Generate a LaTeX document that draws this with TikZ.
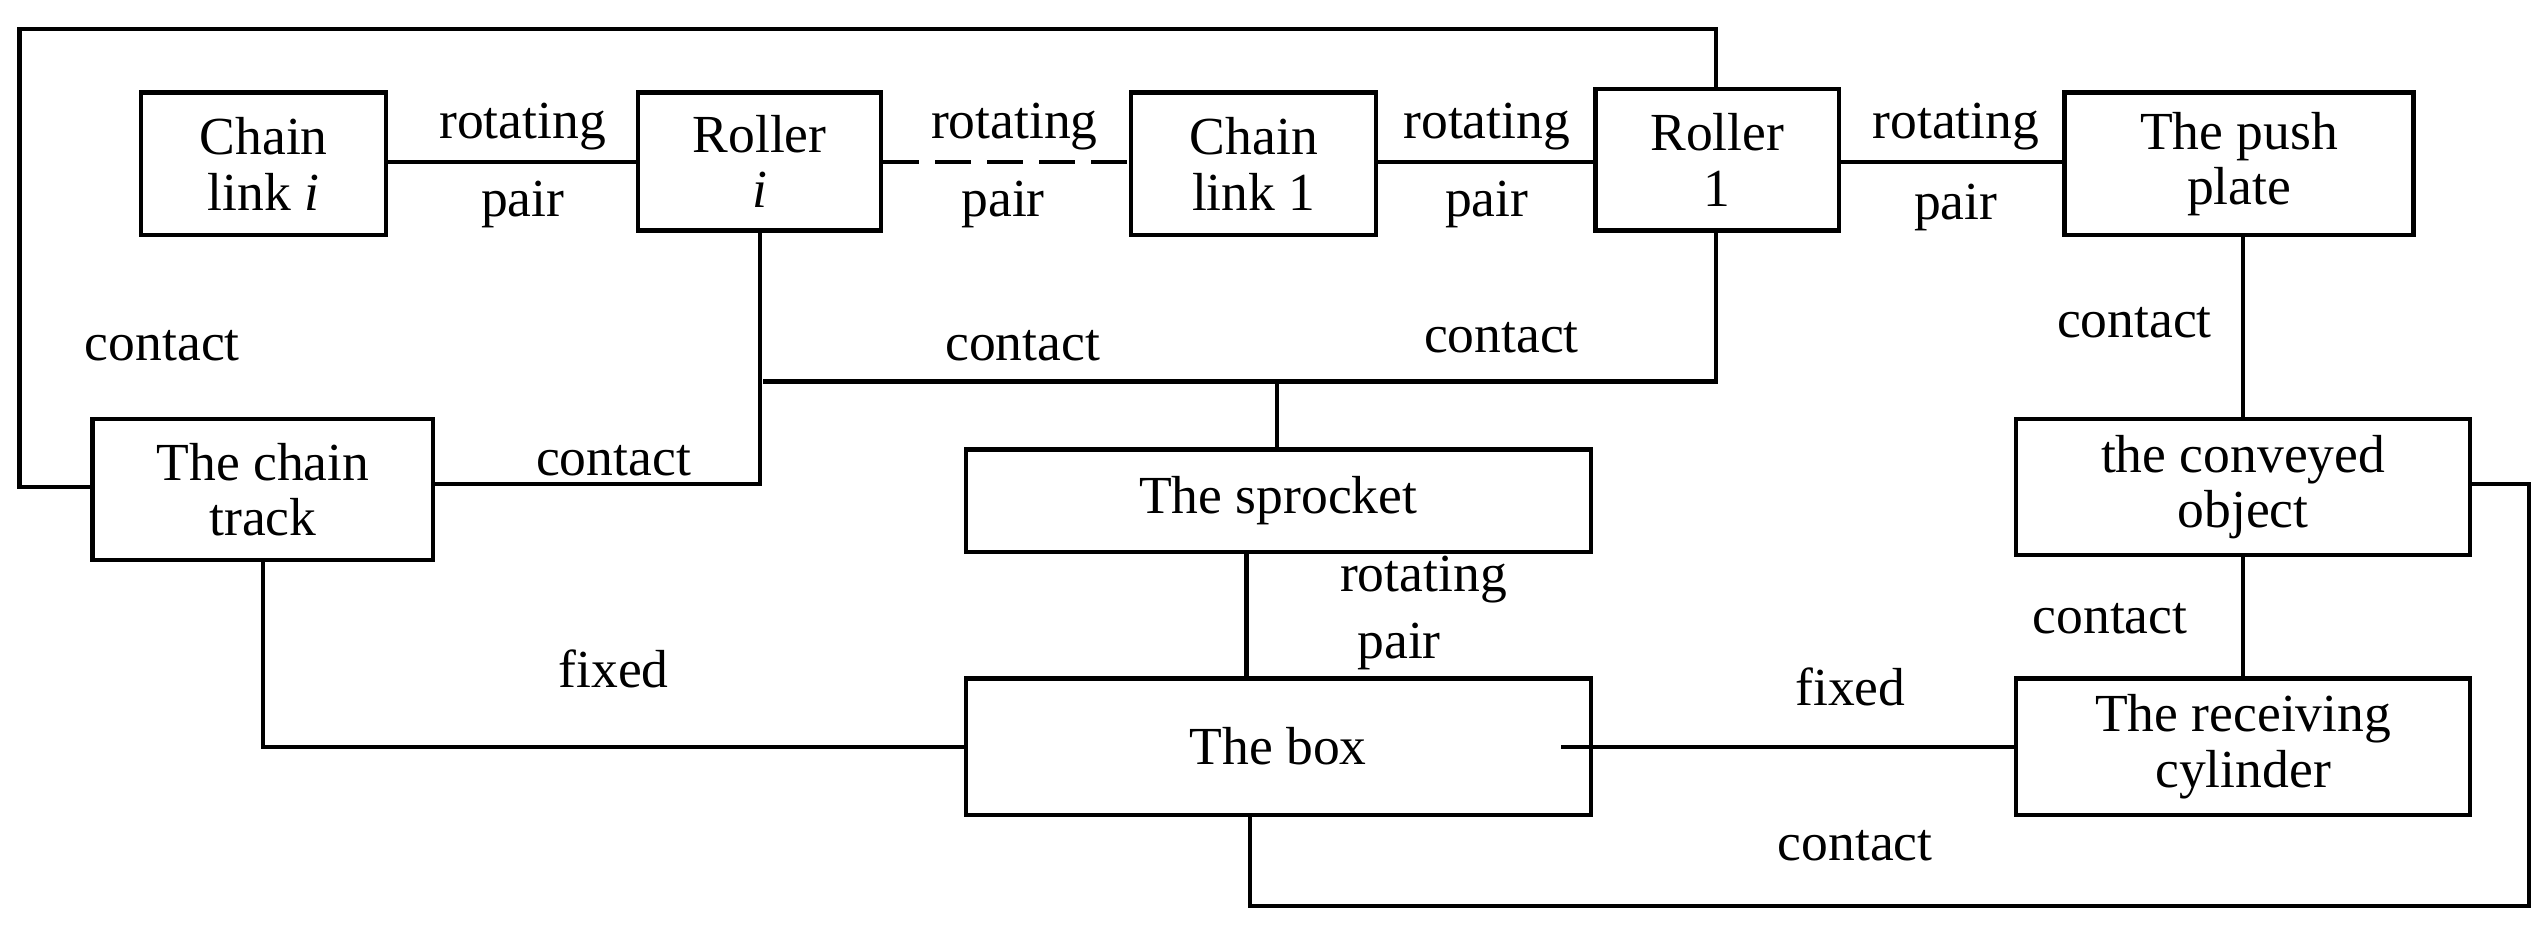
\documentclass[tikz,border=0pt]{standalone}
\usepackage{fontspec}
\setmainfont{Liberation Serif}
\begin{document}
\begin{tikzpicture}[x=1pt,y=-1pt,
  box/.style={draw,line width=2.6pt,inner sep=0pt,align=center,font=\fontsize{33}{34}\selectfont},
  ln/.style={line width=2.6pt},
  lab/.style={font=\fontsize{33}{34}\selectfont,inner sep=0pt}]
\useasboundingbox (0,0) rectangle (1560,573);
\node[box,minimum width=151,minimum height=88] (cli) at (162.5,101) {Chain\\link \textit{i}};
\node[box,minimum width=150,minimum height=85] (ri) at (468,99.5) {Roller\\\textit{i}};
\node[box,minimum width=151,minimum height=88] (cl1) at (772.5,101) {Chain\\link 1};
\node[box,minimum width=150,minimum height=87] (r1) at (1058,98.5) {Roller\\1};
\node[box,minimum width=215,minimum height=88] (pp) at (1379.5,101) {The push\\plate};
\node[box,minimum width=210,minimum height=87] (ct) at (162,301.5) {The chain\\track};
\node[box,minimum width=385,minimum height=63] (sp) at (787.5,308.5) {The sprocket};
\node[box,minimum width=280,minimum height=84] (co) at (1382,300) {the conveyed\\object};
\node[box,minimum width=385,minimum height=84] (bx) at (787.5,460) {The box};
\node[box,minimum width=280,minimum height=84] (rc) at (1382,460) {The receiving\\cylinder};
% top row
\draw[ln] (cli.east|-0,100) -- (ri.west|-0,100);
\draw[ln,dashed,dash pattern=on 22pt off 10pt] (ri.east|-0,100) -- (cl1.west|-0,100);
\draw[ln] (cl1.east|-0,100) -- (r1.west|-0,100);
\draw[ln] (r1.east|-0,100) -- (pp.west|-0,100);
\node[lab] (l1) at (322,78) {rotating}; \node[lab] (l2) at (322,126) {pair};
\node[lab] (l3) at (625,78) {rotating}; \node[lab] (l4) at (618,126) {pair};
\node[lab] (l5) at (916,78) {rotating}; \node[lab] (l6) at (916,126) {pair};
\node[lab] (l7) at (1205,78) {rotating}; \node[lab] (l8) at (1205,128) {pair};
% outer loop
\draw[ln] (ct.west|-0,300) -- (12,300) -- (12,18) -- (1057,18) -- (1057,55);
\node[lab] (c1) at (100,213) {contact};
\draw[ln] (468,142) -- (468,298) -- (ct.east|-0,298);
\node[lab] (c2) at (378,284) {contact};
\draw[ln] (1057,142) -- (1057,235) -- (470,235);
\draw[ln] (787,235) -- (sp.north-|787,0);
\node[lab] (c3) at (630,213) {contact};
\node[lab] (c4) at (925,208) {contact};
\draw[ln] (pp.south-|1382,0) -- (co.north-|1382,0);
\node[lab] (c5) at (1315,199) {contact};
\draw[ln] (co.south-|1382,0) -- (rc.north-|1382,0);
\node[lab] (c6) at (1300,381) {contact};
\draw[ln] (sp.south-|768,0) -- (bx.north-|768,0);
\node[lab] (l9) at (877,357) {rotating}; \node[lab] (l10) at (862,398) {pair};
\draw[ln] (ct.south-|162,0) -- (162,460) -- (bx.west|-0,460);
\node[lab] (f1) at (378,412) {fixed};
\coordinate (bxin) at (962,460);
\draw[ln] (bxin) -- (rc.west|-0,460);
\node[lab] (f2) at (1140,423) {fixed};
\draw[ln] (bx.south-|770,0) -- (770,558) -- (1558,558) -- (1558,298) -- (co.east|-0,298);
\node[lab] (c7) at (1143,521) {contact};
\end{tikzpicture}
\end{document}
